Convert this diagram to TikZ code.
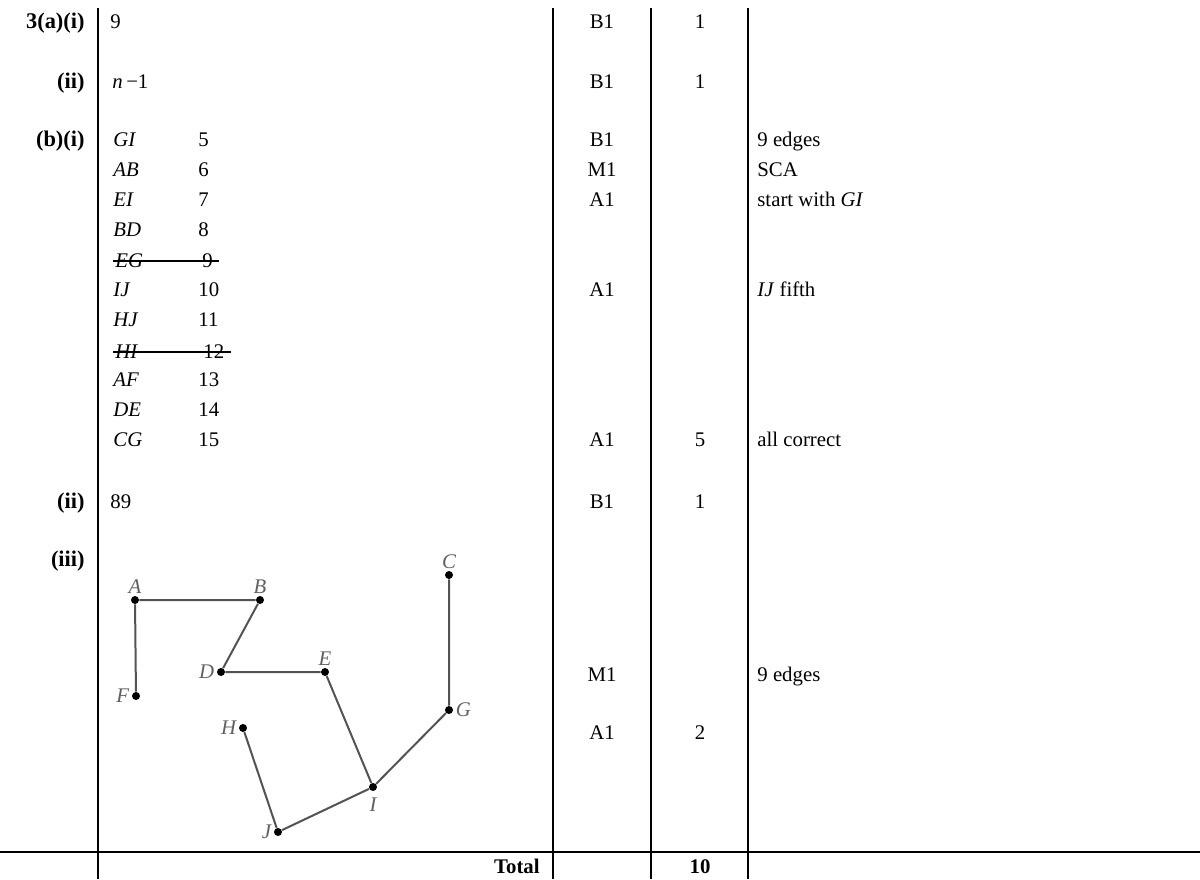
\documentclass[tikz,border=0pt]{standalone}
\usepackage{fontspec}
\setmainfont{Liberation Serif}

\begin{document}
\begin{tikzpicture}[x=0.5pt,y=-0.5pt,
  txt/.style={inner sep=0pt,text height=6.6pt,text depth=0pt,font=\fontsize{10.4}{12}\selectfont},
  lft/.style={txt,anchor=west},
  partlbl/.style={txt,anchor=east,font=\fontsize{11.2}{13}\selectfont\bfseries},
  mid/.style={txt,anchor=center},
  rule/.style={line width=1pt},
  vert/.style={circle,fill=black,inner sep=0pt,minimum size=4pt},
  lbl/.style={font=\fontsize{10.4}{12}\selectfont\itshape,text=gray!75!black,inner sep=1pt},
  treeline/.style={gray!65!black,line width=1pt}]
\useasboundingbox (0,0) rectangle (1200,879);

% table rules
\draw[rule] (98,8) -- (98,879);
\draw[rule] (553,8) -- (553,879);
\draw[rule] (651,8) -- (651,879);
\draw[rule] (748,8) -- (748,879);
\draw[rule] (0,852) -- (1200,852);

% question parts
\node[partlbl] (qai)   at (85,22)  {3(a)(i)};
\node[partlbl] (qaii)  at (85,82)  {(ii)};
\node[partlbl] (qbi)   at (85,140) {(b)(i)};
\node[partlbl] (qbii)  at (85,502) {(ii)};
\node[partlbl] (qbiii) at (85,560) {(iii)};
\node[partlbl,font=\fontsize{10.4}{12}\selectfont\bfseries] (total) at (540,867) {Total};

% answers
\node[lft] (ansai)  at (110,22)  {9};
\node[lft] (ansaii) at (112,82)  {\textit{n}\,−1};
\node[lft] (ansbii) at (110,502) {89};

% Kruskal list
\node[lft] (gi) at (113,140) {\textit{GI}};  \node[lft] (gi5)  at (198,140) {5};
\node[lft] (ab) at (113,170) {\textit{AB}};  \node[lft] (ab6)  at (198,170) {6};
\node[lft] (ei) at (113,200) {\textit{EI}};  \node[lft] (ei7)  at (198,200) {7};
\node[lft] (bd) at (113,230) {\textit{BD}};  \node[lft] (bd8)  at (198,230) {8};
\node[lft] (eg) at (115,261) {\textit{EG}};  \node[lft] (eg9)  at (202,261) {9};
\node[lft] (ij) at (113,290) {\textit{IJ}};  \node[lft] (ij10) at (198,290) {10};
\node[lft] (hj) at (113,320) {\textit{HJ}};  \node[lft] (hj11) at (198,320) {11};
\node[lft] (hi) at (115,352) {\textit{HI}};  \node[lft] (hi12) at (203,352) {12};
\node[lft] (af) at (113,380) {\textit{AF}};  \node[lft] (af13) at (198,380) {13};
\node[lft] (de) at (113,410) {\textit{DE}};  \node[lft] (de14) at (198,410) {14};
\node[lft] (cg) at (113,440) {\textit{CG}};  \node[lft] (cg15) at (198,440) {15};
\draw[line width=0.8pt] ([xshift=-1pt]eg.west) -- ([xshift=3pt]eg9.east);
\draw[line width=0.8pt] ([xshift=-1pt]hi.west) -- ([xshift=3pt]hi12.east);

% marks
\node[mid] (m1)  at (602,22)  {B1};
\node[mid] (m2)  at (602,82)  {B1};
\node[mid] (m3)  at (602,140) {B1};
\node[mid] (m4)  at (602,170) {M1};
\node[mid] (m5)  at (602,200) {A1};
\node[mid] (m6)  at (602,290) {A1};
\node[mid] (m7)  at (602,440) {A1};
\node[mid] (m8)  at (602,502) {B1};
\node[mid] (m9)  at (602,675) {M1};
\node[mid] (m10) at (602,733) {A1};

% totals
\node[mid] (t1) at (700,22)  {1};
\node[mid] (t2) at (700,82)  {1};
\node[mid] (t3) at (700,440) {5};
\node[mid] (t4) at (700,502) {1};
\node[mid] (t5) at (700,733) {2};
\node[mid,font=\fontsize{10.4}{12}\selectfont\bfseries] (t6) at (700,867) {10};

% guidance
\node[lft] (g1) at (757,140) {9 edges};
\node[lft] (g2) at (757,170) {SCA};
\node[lft] (g3) at (757,200) {start with \textit{GI}};
\node[lft] (g4) at (757,290) {\textit{IJ} fifth};
\node[lft] (g5) at (757,440) {all correct};
\node[lft] (g6) at (757,675) {9 edges};

% spanning tree
\node[vert,label={[lbl]above:A}] (A) at (135,600) {};
\node[vert,label={[lbl]above:B}] (B) at (260,600) {};
\node[vert,label={[lbl]above:C}] (C) at (449,575) {};
\node[vert,label={[lbl]left:D}]  (D) at (221,672) {};
\node[vert,label={[lbl]above:E}] (E) at (325,672) {};
\node[vert,label={[lbl]left:F}]  (F) at (136,696) {};
\node[vert,label={[lbl]right:G}] (G) at (449,710) {};
\node[vert,label={[lbl]left:H}]  (H) at (243,728) {};
\node[vert,label={[lbl,yshift=-2pt]below:I}] (I) at (373,787) {};
\node[vert,label={[lbl]left:J}]  (J) at (278,832) {};

\draw[treeline] (A) -- (B) -- (D) -- (E) -- (I) -- (G) -- (C);
\draw[treeline] (A) -- (F);
\draw[treeline] (I) -- (J) -- (H);
\end{tikzpicture}
\end{document}
